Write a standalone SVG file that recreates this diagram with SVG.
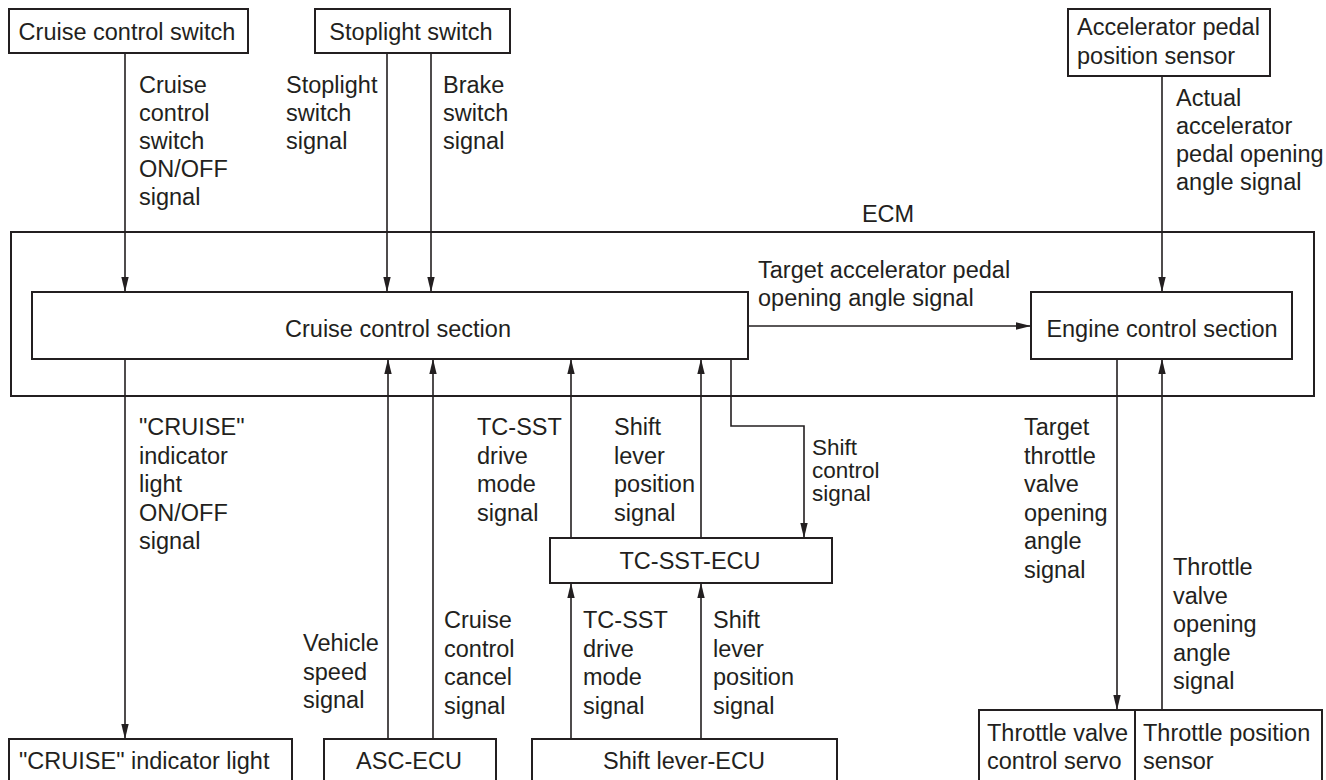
<svg xmlns="http://www.w3.org/2000/svg" width="1326" height="780" viewBox="0 0 1326 780">
  <style>
    text { font-family: "Liberation Sans", Arial, Helvetica, sans-serif; font-size: 23.5px; fill: #231f20; }
    .c { text-anchor: middle; }
    .tight { font-size: 22.5px; }
    .box { fill: #ffffff; stroke: #231f20; stroke-width: 2; }
    .ln { fill: none; stroke: #231f20; stroke-width: 1.6; }
  </style>
  <defs>
    <marker id="arr" markerUnits="userSpaceOnUse" markerWidth="16" markerHeight="10" viewBox="0 0 16 10" refX="15" refY="5" orient="auto">
      <path d="M0,1.3 L15,5 L0,8.7 Z" fill="#231f20"/>
    </marker>
  </defs>
  <rect width="1326" height="780" fill="#ffffff"/>

  <!-- ECM enclosure -->
  <g id="ecm">
    <rect class="box" x="11" y="232" width="1303" height="164" fill="none"/>
    <text class="c" x="888" y="222">ECM</text>
  </g>

  <!-- Signal lines -->
  <g id="connectors">
    <!-- inputs from the switches -->
    <line class="ln" x1="125" y1="53" x2="125" y2="292" marker-end="url(#arr)"/>
    <line class="ln" x1="387" y1="53" x2="387" y2="292" marker-end="url(#arr)"/>
    <line class="ln" x1="431" y1="53" x2="431" y2="292" marker-end="url(#arr)"/>
    <line class="ln" x1="1162" y1="76" x2="1162" y2="292" marker-end="url(#arr)"/>
    <!-- cruise section to engine section -->
    <line class="ln" x1="748" y1="326" x2="1031" y2="326" marker-end="url(#arr)"/>
    <!-- indicator light output -->
    <line class="ln" x1="125" y1="359" x2="125" y2="739" marker-end="url(#arr)"/>
    <!-- ASC-ECU inputs -->
    <line class="ln" x1="388" y1="739" x2="388" y2="359" marker-end="url(#arr)"/>
    <line class="ln" x1="433" y1="739" x2="433" y2="359" marker-end="url(#arr)"/>
    <!-- TC-SST-ECU to cruise section -->
    <line class="ln" x1="571" y1="538" x2="571" y2="359" marker-end="url(#arr)"/>
    <line class="ln" x1="701" y1="538" x2="701" y2="359" marker-end="url(#arr)"/>
    <!-- shift control signal -->
    <polyline class="ln" points="731,359 731,426 804,426 804,538" marker-end="url(#arr)"/>
    <!-- shift lever-ECU to TC-SST-ECU -->
    <line class="ln" x1="571" y1="739" x2="571" y2="583" marker-end="url(#arr)"/>
    <line class="ln" x1="701" y1="739" x2="701" y2="583" marker-end="url(#arr)"/>
    <!-- throttle lines -->
    <line class="ln" x1="1117" y1="359" x2="1117" y2="710" marker-end="url(#arr)"/>
    <line class="ln" x1="1162" y1="710" x2="1162" y2="359" marker-end="url(#arr)"/>
  </g>

  <!-- Signal labels -->
  <g id="labels">
    <text><tspan x="139" y="93">Cruise</tspan><tspan x="139" y="121">control</tspan><tspan x="139" y="149">switch</tspan><tspan x="139" y="177">ON/OFF</tspan><tspan x="139" y="205">signal</tspan></text>
    <text><tspan x="286" y="93">Stoplight</tspan><tspan x="286" y="121">switch</tspan><tspan x="286" y="149">signal</tspan></text>
    <text><tspan x="443" y="93">Brake</tspan><tspan x="443" y="121">switch</tspan><tspan x="443" y="149">signal</tspan></text>
    <text><tspan x="1176" y="106">Actual</tspan><tspan x="1176" y="134">accelerator</tspan><tspan x="1176" y="162">pedal opening</tspan><tspan x="1176" y="190">angle signal</tspan></text>
    <text><tspan x="758" y="278">Target accelerator pedal</tspan><tspan x="758" y="306">opening angle signal</tspan></text>
    <text><tspan x="139" y="435">"CRUISE"</tspan><tspan x="139" y="463.5">indicator</tspan><tspan x="139" y="492">light</tspan><tspan x="139" y="520.5">ON/OFF</tspan><tspan x="139" y="549">signal</tspan></text>
    <text><tspan x="303" y="651">Vehicle</tspan><tspan x="303" y="679.5">speed</tspan><tspan x="303" y="708">signal</tspan></text>
    <text><tspan x="444" y="628">Cruise</tspan><tspan x="444" y="656.5">control</tspan><tspan x="444" y="685">cancel</tspan><tspan x="444" y="713.5">signal</tspan></text>
    <text><tspan x="477" y="435">TC-SST</tspan><tspan x="477" y="463.5">drive</tspan><tspan x="477" y="492">mode</tspan><tspan x="477" y="520.5">signal</tspan></text>
    <text><tspan x="614" y="435">Shift</tspan><tspan x="614" y="463.5">lever</tspan><tspan x="614" y="492">position</tspan><tspan x="614" y="520.5">signal</tspan></text>
    <text class="tight"><tspan x="812" y="455">Shift</tspan><tspan x="812" y="478">control</tspan><tspan x="812" y="501">signal</tspan></text>
    <text><tspan x="583" y="628">TC-SST</tspan><tspan x="583" y="656.5">drive</tspan><tspan x="583" y="685">mode</tspan><tspan x="583" y="713.5">signal</tspan></text>
    <text><tspan x="713" y="628">Shift</tspan><tspan x="713" y="656.5">lever</tspan><tspan x="713" y="685">position</tspan><tspan x="713" y="713.5">signal</tspan></text>
    <text><tspan x="1024" y="435">Target</tspan><tspan x="1024" y="463.5">throttle</tspan><tspan x="1024" y="492">valve</tspan><tspan x="1024" y="520.5">opening</tspan><tspan x="1024" y="549">angle</tspan><tspan x="1024" y="577.5">signal</tspan></text>
    <text><tspan x="1173" y="575">Throttle</tspan><tspan x="1173" y="603.5">valve</tspan><tspan x="1173" y="632">opening</tspan><tspan x="1173" y="660.5">angle</tspan><tspan x="1173" y="689">signal</tspan></text>
  </g>

  <!-- Nodes -->
  <g id="cruise-control-switch">
    <rect class="box" x="9" y="9" width="239" height="44"/>
    <text class="c" x="127" y="40">Cruise control switch</text>
  </g>
  <g id="stoplight-switch">
    <rect class="box" x="315" y="9" width="195" height="44"/>
    <text class="c" x="411" y="40">Stoplight switch</text>
  </g>
  <g id="accelerator-pedal-position-sensor">
    <rect class="box" x="1068" y="9" width="202" height="67"/>
    <text><tspan x="1077" y="35">Accelerator pedal</tspan><tspan x="1077" y="64">position sensor</tspan></text>
  </g>
  <g id="cruise-control-section">
    <rect class="box" x="32" y="292" width="716" height="67"/>
    <text class="c" x="398" y="337">Cruise control section</text>
  </g>
  <g id="engine-control-section">
    <rect class="box" x="1031" y="292" width="261" height="67"/>
    <text class="c" x="1162" y="337">Engine control section</text>
  </g>
  <g id="tc-sst-ecu">
    <rect class="box" x="550" y="538" width="282" height="45"/>
    <text class="c" x="690" y="569">TC-SST-ECU</text>
  </g>
  <g id="cruise-indicator-light">
    <rect class="box" x="9" y="739" width="283" height="60"/>
    <text x="19" y="769">"CRUISE" indicator light</text>
  </g>
  <g id="asc-ecu">
    <rect class="box" x="324" y="739" width="172" height="60"/>
    <text class="c" x="409" y="769">ASC-ECU</text>
  </g>
  <g id="shift-lever-ecu">
    <rect class="box" x="532" y="739" width="305" height="60"/>
    <text class="c" x="684" y="769">Shift lever-ECU</text>
  </g>
  <g id="throttle-valve-control-servo">
    <rect class="box" x="979" y="710" width="156" height="90"/>
    <text><tspan x="987" y="741">Throttle valve</tspan><tspan x="987" y="769">control servo</tspan></text>
  </g>
  <g id="throttle-position-sensor">
    <rect class="box" x="1135" y="710" width="187" height="90"/>
    <text><tspan x="1143" y="741">Throttle position</tspan><tspan x="1143" y="769">sensor</tspan></text>
  </g>
</svg>
